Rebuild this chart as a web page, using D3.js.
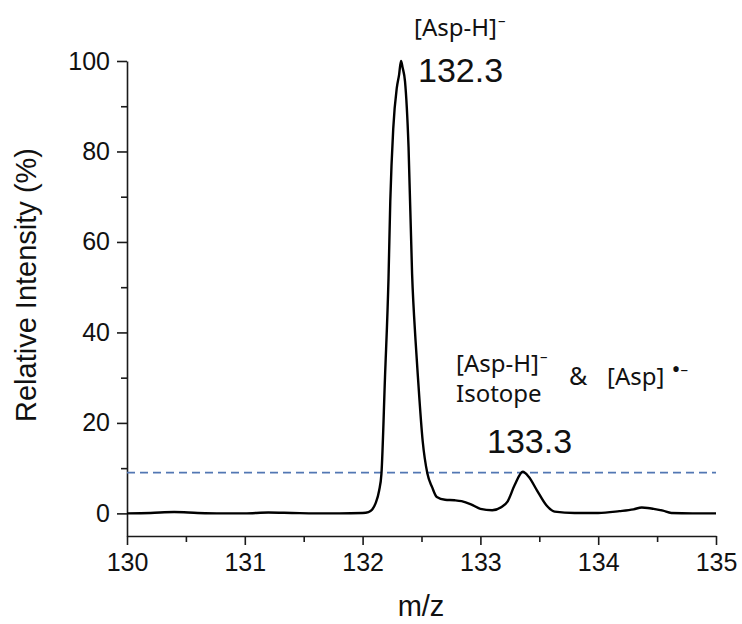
<!DOCTYPE html>
<html>
<head>
<meta charset="utf-8">
<script src="https://cdn.jsdelivr.net/npm/d3@7/dist/d3.min.js"></script>
<style>
  html, body { margin: 0; padding: 0; background: #fff; }
  svg { display: block; }
  .tick text { font-family: "Liberation Sans", Arial, sans-serif; }
</style>
</head>
<body>
<div id="chart"></div>
<script>
  // spectrum
  const mz = [130.0, 130.2, 130.4, 130.6, 130.8, 131.0, 131.2, 131.4, 131.6, 131.8,
    132.0, 132.05, 132.08, 132.11, 132.14, 132.16, 132.19, 132.22, 132.235, 132.26,
    132.29, 132.31, 132.326, 132.34, 132.36, 132.39, 132.42, 132.45, 132.47, 132.51,
    132.55, 132.59, 132.63, 132.7, 132.78, 132.84, 132.92, 133.0, 133.1, 133.18,
    133.23, 133.29, 133.36, 133.41, 133.48, 133.56, 133.63, 133.8, 134.0, 134.18,
    134.3, 134.37, 134.42, 134.47, 134.55, 134.62, 134.8, 135.0];
  const intensity = [0, 0.1, 0.3, 0.1, 0, 0, 0.2, 0.1, 0, 0,
    0.1, 0.3, 0.8, 2.2, 5, 8.8, 30, 52, 69, 85,
    94, 97, 100, 98.5, 95.5, 81, 53, 38, 30, 16,
    8.8, 5.8, 3.6, 3.0, 2.9, 2.7, 2.0, 1.0, 0.7, 1.4,
    2.6, 6.2, 9.2, 8.1, 5.1, 1.8, 0.4, 0.1, 0.1, 0.5,
    0.9, 1.3, 1.2, 1.0, 0.6, 0.1, 0, 0];

  const xTicks = [130, 131, 132, 133, 134, 135];
  const xMinor = [130.5, 131.5, 132.5, 133.5, 134.5];
  const yTicks = [0, 20, 40, 60, 80, 100];
  const yMinor = [10, 30, 50, 70, 90];
  const threshold = 9;

  const W = 742, H = 624;
  const x = d3.scaleLinear().domain([130, 135]).range([127, 716]);
  const y = d3.scaleLinear().domain([-5, 100]).range([536, 61]);

  const svg = d3.select('#chart').append('svg').attr('width', W).attr('height', H);

  /* --- axes ------------------------------------------------------------ */
  function styleAxis(g) {
    g.selectAll('path, line').attr('stroke', '#1a1a1a').attr('stroke-width', 1.6);
    g.selectAll('text').attr('fill', '#111').attr('font-size', 25);
  }

  svg.append('g').attr('transform', 'translate(0,' + y.range()[0] + ')')
    .call(d3.axisBottom(x).tickValues(xMinor).tickSize(6).tickSizeOuter(0).tickFormat(''))
    .call(styleAxis).call(g => g.select('.domain').remove());
  svg.append('g').attr('transform', 'translate(0,' + y.range()[0] + ')')
    .call(d3.axisBottom(x).tickValues(xTicks).tickSize(9).tickSizeOuter(0).tickPadding(8).tickFormat(d3.format('d')))
    .call(styleAxis);

  svg.append('g').attr('transform', 'translate(' + x.range()[0] + ',0)')
    .call(d3.axisLeft(y).tickValues(yMinor).tickSize(6).tickSizeOuter(0).tickFormat(''))
    .call(styleAxis).call(g => g.select('.domain').remove());
  svg.append('g').attr('transform', 'translate(' + x.range()[0] + ',0)')
    .call(d3.axisLeft(y).tickValues(yTicks).tickSize(10).tickSizeOuter(0).tickPadding(7).tickFormat(d3.format('d')))
    .call(styleAxis);

  /* --- titles ---------------------------------------------------------- */
  svg.append('text')
    .attr('transform', 'translate(36,285) rotate(-90)')
    .attr('text-anchor', 'middle')
    .attr('font-family', '"Liberation Sans", Arial, sans-serif')
    .attr('font-size', 29).attr('fill', '#111')
    .text('Relative Intensity (%)');

  svg.append('text')
    .attr('x', 421).attr('y', 616)
    .attr('text-anchor', 'middle')
    .attr('font-family', '"Liberation Sans", Arial, sans-serif')
    .attr('font-size', 29).attr('fill', '#111')
    .text('m/z');

  /* --- threshold line ---------------------------------------------------- */
  svg.append('line')
    .attr('x1', x(130)).attr('x2', x(135))
    .attr('y1', y(threshold)).attr('y2', y(threshold))
    .attr('stroke', '#5277b3').attr('stroke-width', 1.6)
    .attr('stroke-dasharray', '8 5');

  /* --- spectrum ---------------------------------------------------------- */
  const pts = mz.map((m, i) => [m, intensity[i]]);
  svg.append('path')
    .datum(pts)
    .attr('fill', 'none')
    .attr('stroke', '#000')
    .attr('stroke-width', 2.4)
    .attr('stroke-linejoin', 'round')
    .attr('d', d3.line().x(d => x(d[0])).y(d => y(d[1])).curve(d3.curveMonotoneX));

  /* --- annotations ------------------------------------------------------- */
  const annFont = '"Noto Sans", "Open Sans", sans-serif';
  const numFont = '"Liberation Sans", Arial, sans-serif';

  function ion(xp, yp, label) {
    const t = svg.append('text').attr('x', xp).attr('y', yp)
      .attr('font-family', annFont).attr('font-size', 24).attr('fill', '#111');
    t.append('tspan').text(label);
    t.append('tspan').attr('font-size', 15).attr('dx', 1).attr('dy', -10).text('\u2013');
    return t;
  }

  ion(414, 36, '[Asp-H]');
  svg.append('text').attr('x', 418).attr('y', 82)
    .attr('font-family', numFont).attr('font-size', 34).attr('fill', '#111')
    .text('132.3');

  ion(456, 372, '[Asp-H]');
  svg.append('text').attr('x', 456).attr('y', 402)
    .attr('font-family', annFont).attr('font-size', 24).attr('fill', '#111')
    .text('Isotope');
  svg.append('text').attr('x', 569).attr('y', 385)
    .attr('font-family', annFont).attr('font-size', 25).attr('fill', '#111')
    .text('&');
  const asp = svg.append('text').attr('x', 607).attr('y', 385)
    .attr('font-family', annFont).attr('font-size', 24).attr('fill', '#111');
  asp.append('tspan').text('[Asp]');
  asp.append('tspan').attr('dx', 7).attr('dy', -7).attr('font-size', 24).text('\u2022');
  asp.append('tspan').attr('font-size', 15).attr('dy', -3).text('\u2013');

  svg.append('text').attr('x', 487).attr('y', 453)
    .attr('font-family', numFont).attr('font-size', 34).attr('fill', '#111')
    .text('133.3');
</script>
</body>
</html>
